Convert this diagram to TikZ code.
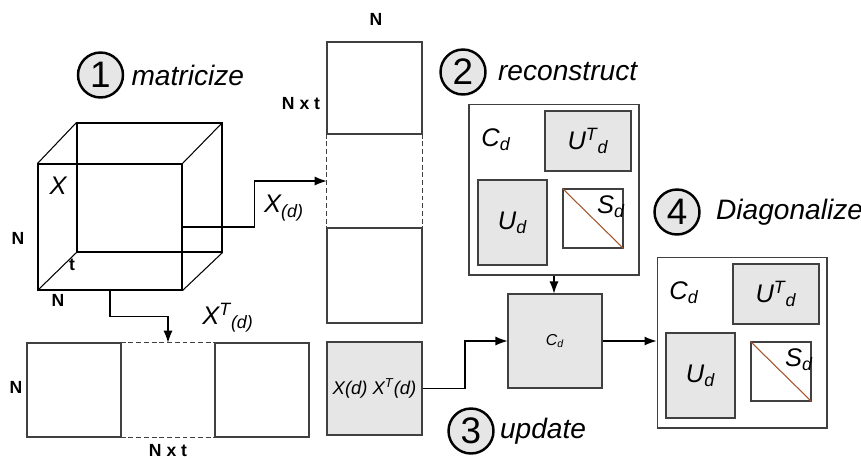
\documentclass[tikz,border=0pt]{standalone}
\usepackage{fontspec}
\setsansfont{Liberation Sans}
\usetikzlibrary{positioning,arrows.meta,calc}
\definecolor{boxgray}{RGB}{230,230,230}
\definecolor{diagbrown}{RGB}{165,85,45}

\begin{document}
\begin{tikzpicture}[
  x=0.02cm, y=-0.02cm,
  font=\sffamily,
  mat/.style={rectangle, draw=black!75, line width=0.6pt, inner sep=0pt},
  grey/.style={mat, fill=boxgray},
  dim/.style={font=\sffamily\bfseries\fontsize{10}{12}\selectfont, inner sep=1pt},
  lbl/.style={font=\sffamily\itshape\fontsize{14.5}{16}\selectfont, inner sep=1pt},
  stepnum/.style={circle, draw=black, line width=1.4pt, fill=boxgray, minimum size=9mm,
                  inner sep=0pt, font=\sffamily\fontsize{21}{22}\selectfont},
  steptxt/.style={font=\sffamily\itshape\fontsize{16}{18}\selectfont, inner sep=0pt},
  dashside/.style={draw=black!75, line width=0.6pt, dash pattern=on 2.8pt off 1.6pt},
  arr/.style={-{Latex[length=2.4mm,width=1.8mm]}, draw=black, line width=0.6pt}
]
\useasboundingbox (0,0) rectangle (861,458);

% the tensor X
\node[rectangle, draw=black, line width=0.6pt, minimum width=2.88cm, minimum height=2.52cm, inner sep=0pt] (front) at (110,227) {};
\node[rectangle, draw=black, line width=0.6pt, minimum width=2.9cm, minimum height=2.58cm, inner sep=0pt] (back) at (149.5,187.5) {};
\foreach \c in {north west, north east, south west, south east}
  \draw[black, line width=0.6pt] (front.\c) -- (back.\c);
\node[lbl] (xlbl) at (58,186) {X};
\node[dim] (ncube) at (18,238) {N};
\node[dim] (tcube) at (72,265) {t};
\node[dim] (ncubeb) at (58,300) {N};

% X_(d), stacked vertically
\node[mat, minimum width=1.9cm, minimum height=1.84cm] (vtop) at (374.5,88) {};
\node[rectangle, minimum width=1.9cm, minimum height=1.88cm, inner sep=0pt] (vmid) at (374.5,181) {};
\node[mat, minimum width=1.9cm, minimum height=1.9cm] (vbot) at (374.5,275.5) {};
\draw[dashside] (vmid.north west) -- (vmid.south west) (vmid.north east) -- (vmid.south east);
\node[dim] (vn) at (376,19) {N};
\node[dim] (vnt) at (301,104) {N x t};

% X^T_(d), side by side
\node[mat, minimum width=1.88cm, minimum height=1.88cm] (hl) at (74,390) {};
\node[rectangle, minimum width=1.88cm, minimum height=1.88cm, inner sep=0pt] (hmid) at (168,390) {};
\node[mat, minimum width=1.88cm, minimum height=1.88cm] (hr) at (262,390) {};
\draw[dashside] (hmid.north west) -- (hmid.north east) (hmid.south west) -- (hmid.south east);
\node[dim] (hn) at (16,387) {N};
\node[dim] (hnt) at (168,451) {N x t};

\draw[arr] (front.east) -| ($(front.east)!0.5!(vmid.west)$) |- (vmid.west);
\node[lbl] (xd) at (284,208) {X\textsubscript{(d)}};
\draw[arr] (front.south) |- ($(front.south)!0.5!(hmid.north)$) -| (hmid.north);
\node[lbl] (xtd) at (228,318) {X\textsuperscript{T}\textsubscript{(d)}};

% update
\node[grey, minimum width=1.9cm, minimum height=1.86cm, font=\sffamily\itshape\fontsize{10.5}{12}\selectfont] (xx) at (374.5,388.5) {X(d) X\textsuperscript{T}(d)};
\node[grey, minimum width=1.88cm, minimum height=1.88cm, font=\sffamily\itshape\fontsize{9}{10}\selectfont] (cd) at (555,341) {C\textsubscript{d}};
\draw[arr] (xx.east) -| ($(xx.east)!0.5!(cd.west)$) |- (cd.west);

% reconstruct / diagonalize blocks
\foreach \k/\ox/\oy in {2/469/104, 4/657/257}{
  \begin{scope}[shift={(\ox,\oy)}]
    \node[mat, fill=white, minimum width=3.4cm, minimum height=3.42cm] (blk\k) at (85,85.5) {};
    \node[lbl] (cdl\k) at (27,36) {C\textsubscript{d}};
    \node[grey, lbl, minimum width=1.72cm, minimum height=1.2cm] (ut\k) at (119,37) {U\textsuperscript{T}\textsubscript{d}};
    \node[grey, lbl, minimum width=1.38cm, minimum height=1.7cm] (u\k) at (43.5,118.5) {U\textsubscript{d}};
    \node[mat, minimum width=1.2cm, minimum height=1.18cm] (s\k) at (124,114.5) {};
    \draw[diagbrown, line width=0.6pt] (s\k.north west) -- (s\k.south east);
    \node[lbl, anchor=north east] (sd\k) at ([xshift=2pt,yshift=-3pt]s\k.north east) {S\textsubscript{d}};
  \end{scope}
}
\draw[arr] (blk2.south) -- (cd.north -| blk2.south);
\draw[arr] (cd.east) -- (cd.east -| blk4.west);

% step labels
\node[stepnum] (n1) at (100.5,75) {1};
\node[steptxt, right=1.4mm of n1] (t1) {matricize};
\node[stepnum] (n2) at (463,72) {2};
\node[steptxt, right=2.2mm of n2] (t2) {reconstruct};
\node[stepnum] (n3) at (471,431) {3};
\node[steptxt, right=1mm of n3] (t3) {update};
\node[stepnum] (n4) at (677,212) {4};
\node[steptxt, right=3mm of n4] (t4) {Diagonalize};
\end{tikzpicture}
\end{document}
